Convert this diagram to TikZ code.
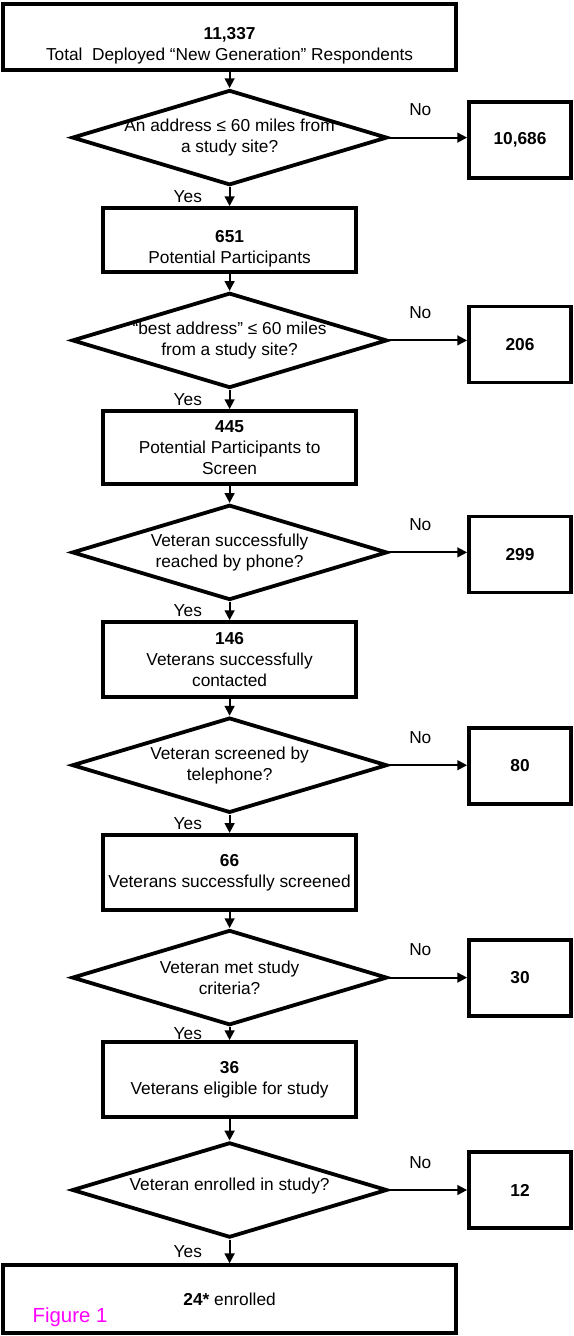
\documentclass[tikz,border=0pt]{standalone}
\usepackage{fontspec}
\setmainfont{Liberation Sans}
\usetikzlibrary{shapes.geometric, arrows.meta}
\definecolor{figpink}{RGB}{255,0,255}
\tikzset{stage/.style={draw, line width=2.7pt, minimum width=6.33cm, minimum height=1.88cm, align=center},
         decision/.style={draw, diamond, line width=2.7pt, minimum width=7.88cm, minimum height=2.38cm, inner sep=0pt},
         question/.style={align=center},
         excluded/.style={draw, line width=2.7pt, minimum width=2.55cm, minimum height=1.9cm, font=\fontsize{12.3}{15}\selectfont\bfseries},
         flow/.style={line width=1.4pt},
        }

\begin{document}
\begin{tikzpicture}[>={Triangle[length=7pt,width=7pt]}, font=\fontsize{12.3}{15}\selectfont]
        \useasboundingbox (0,0) rectangle (14.35,-33.4);

        \node[stage, minimum width=11.33cm, minimum height=1.65cm, label={[question,yshift=-6pt]center:\textbf{11,337}\\Total\ \ Deployed “New Generation” Respondents}](total)at(5.74,-0.93){};
        \node[decision, label={[question]center:An address ≤ 60 miles from\\a study site?}](near)at(5.74,-3.44){};
        \node[excluded](farA)at(13,-3.5){10,686};
        \draw[flow,->](total)--(near);
        \draw[flow,->](near.east)--node[pos=0.4,above=0.4cm]{No}(near.east-|farA.west);

        \node[stage, minimum height=1.6cm, label={[question,yshift=-6pt]center:\textbf{651}\\Potential Participants}](pot)at(5.74,-6){};
        \node[decision, label={[question]center:“best address” ≤ 60 miles\\from a study site?}](best)at(5.74,-8.51){};
        \node[excluded](farB)at(13,-8.61){206};
        \draw[flow,->](near)--node[left=0.55cm]{Yes}(pot);
        \draw[flow,->](pot)--(best);
        \draw[flow,->](best.east)--node[pos=0.4,above=0.4cm]{No}(best.east-|farB.west);

        \node[stage, minimum height=1.83cm](screen)at(5.74,-11.19){\textbf{445}\\Potential Participants to\\Screen};
        \node[decision, label={[question]center:Veteran successfully\\reached by phone?}](phone)at(5.74,-13.81){};
        \node[excluded](noreach)at(13,-13.86){299};
        \draw[flow,->](best)--node[left=0.55cm]{Yes}(screen);
        \draw[flow,->](screen)--(phone);
        \draw[flow,->](phone.east)--node[pos=0.4,above=0.4cm]{No}(phone.east-|noreach.west);

        \node[stage](contact)at(5.74,-16.49){\textbf{146}\\Veterans successfully\\contacted};
        \node[decision, label={[question]center:Veteran screened by\\telephone?}](tel)at(5.74,-19.13){};
        \node[excluded](noscreen)at(13,-19.14){80};
        \draw[flow,->](phone)--node[left=0.55cm]{Yes}(contact);
        \draw[flow,->](contact)--(tel);
        \draw[flow,->](tel.east)--node[pos=0.4,above=0.4cm]{No}(tel.east-|noscreen.west);

        \node[stage](screened)at(5.74,-21.81){\textbf{66}\\Veterans successfully screened};
        \node[decision, label={[question]center:Veteran met study\\criteria?}](crit)at(5.74,-24.44){};
        \node[excluded](nocrit)at(13,-24.44){30};
        \draw[flow,->](tel)--node[left=0.55cm]{Yes}(screened);
        \draw[flow,->](screened)--(crit);
        \draw[flow,->](crit.east)--node[pos=0.4,above=0.4cm]{No}(crit.east-|nocrit.west);

        \node[stage](elig)at(5.74,-26.99){\textbf{36}\\Veterans eligible for study};
        \node[decision, label={[question,yshift=3pt]center:Veteran enrolled in study?}](enrol)at(5.74,-29.75){};
        \node[excluded](noenrol)at(13,-29.75){12};
        \draw[flow,->](crit)--node[left=0.55cm]{Yes}(elig);
        \draw[flow,->](elig)--(enrol);
        \draw[flow,->](enrol.east)--node[pos=0.4,above=0.4cm]{No}(enrol.east-|noenrol.west);

        \node[stage, minimum width=11.33cm, minimum height=1.7cm](final)at(5.74,-32.48){\textbf{24*} enrolled};
        \draw[flow,->](enrol)--node[left=0.55cm]{Yes}(final);

        \node[text=figpink, font=\fontsize{14.5}{17}\selectfont](fig)at(1.75,-32.93){Figure 1};
    \end{tikzpicture}
\end{document}
